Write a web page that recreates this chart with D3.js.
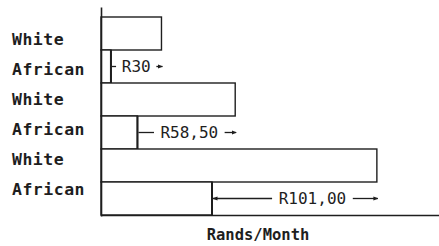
<!DOCTYPE html>
<html>
<head>
<meta charset="utf-8">
<script src="https://cdn.jsdelivr.net/npm/d3@7"></script>
<style>
  html, body { margin: 0; padding: 0; background: #fff; }
  svg { display: block; }
</style>
</head>
<body>
<svg id="chart" width="439" height="246"></svg>
<script>
// ---- data ----
const groups = ["1", "2", "3"];
const rowLabels = ["White", "African", "White", "African", "White", "African"];
const whiteValues = [36.5, 81, 166.5];     // rands / month
const africanValues = [6, 22, 67];          // rands / month
const gapLabels = ["R30", "R58,50", "R101,00"];
const axisTitle = "Rands/Month";

// ---- layout / style constants ----
const W = 439, H = 246;
const ink = "#1e1e1e";
const textShift = [0, 3, 18];   // horizontal nudge of the gap label text
const svg = d3.select("#chart");

const rows = rowLabels.map((l, i) => i);
const y = d3.scaleBand().domain(rows).range([17, 215]).padding(0);
const x = d3.scaleLinear().domain([0, 204]).range([101, 439]);
const labelY = d3.scalePoint().domain(rows).range([39, 189]);

// bars
const bars = [];
groups.forEach((g, i) => {
  bars.push({ row: 2 * i, v: whiteValues[i], kind: "White" });
  bars.push({ row: 2 * i + 1, v: africanValues[i], kind: "African" });
});

svg.append("g").selectAll("rect").data(bars).join("rect")
  .attr("x", x(0))
  .attr("y", d => y(d.row))
  .attr("width", d => x(d.v) - x(0))
  .attr("height", y.bandwidth())
  .attr("fill", "#fff")
  .attr("stroke", ink)
  .attr("stroke-width", 1.4);

// thicker African end line
svg.append("g").selectAll("line").data(bars.filter(d => d.kind === "African")).join("line")
  .attr("x1", d => x(d.v)).attr("x2", d => x(d.v))
  .attr("y1", d => y(d.row)).attr("y2", d => y(d.row) + y.bandwidth())
  .attr("stroke", ink).attr("stroke-width", 2);

// axes
const xAxis = d3.axisBottom(x).tickValues([]).tickSizeOuter(0);
const gx = svg.append("g").attr("transform", `translate(0,${y.range()[1]})`).call(xAxis);
gx.select(".domain").attr("stroke", ink).attr("stroke-width", 1.6);

const yAxis = d3.axisLeft(d3.scaleLinear().domain([0, 1]).range([216, 7])).tickValues([]).tickSizeOuter(0);
const gy = svg.append("g").attr("transform", `translate(${x(0)},0)`).call(yAxis);
gy.select(".domain").attr("stroke", ink).attr("stroke-width", 1.6);

// row labels
svg.append("g").selectAll("text").data(rowLabels).join("text")
  .attr("x", 12)
  .attr("y", (d, i) => labelY(i))
  .attr("dy", "0.36em")
  .attr("font-family", "'DejaVu Sans Mono', monospace")
  .attr("font-weight", "bold")
  .attr("font-size", 16.5)
  .attr("letter-spacing", 0.5)
  .attr("fill", ink)
  .text(d => d);

// gap annotations
const defs = svg.append("defs");
defs.append("marker").attr("id", "head").attr("viewBox", "0 0 10 10")
  .attr("refX", 9).attr("refY", 5).attr("markerWidth", 5).attr("markerHeight", 5)
  .attr("orient", "auto-start-reverse").attr("markerUnits", "userSpaceOnUse")
  .append("path").attr("d", "M0,1 L10,5 L0,9 Z").attr("fill", ink);

const ann = svg.append("g");
groups.forEach((g, i) => {
  const x0 = x(africanValues[i]), x1 = x(whiteValues[i]);
  const cy = y(2 * i + 1) + y.bandwidth() / 2;
  const tw = gapLabels[i].length * 10.1;
  const cx = (x0 + x1) / 2 + textShift[i];
  const tl = cx - tw / 2 - 5, tr = cx + tw / 2 + 5;
  ann.append("line").attr("x1", x0 + 1).attr("x2", tl).attr("y1", cy).attr("y2", cy)
    .attr("stroke", ink).attr("stroke-width", 1.3)
    .attr("marker-start", i === 2 ? "url(#head)" : null);
  ann.append("line").attr("x1", tr).attr("x2", x1 + 1).attr("y1", cy).attr("y2", cy)
    .attr("stroke", ink).attr("stroke-width", 1.3)
    .attr("marker-end", "url(#head)");
  ann.append("text").attr("x", cx).attr("y", cy).attr("dy", "0.36em")
    .attr("text-anchor", "middle")
    .attr("font-family", "'DejaVu Sans Mono', monospace")
    .attr("font-size", 16)
    .attr("fill", ink)
    .text(gapLabels[i]);
});

// axis title
svg.append("text")
  .attr("x", 258).attr("y", 240)
  .attr("text-anchor", "middle")
  .attr("font-family", "'DejaVu Sans Mono', monospace")
  .attr("font-weight", "bold")
  .attr("font-size", 15.5)
  .attr("fill", ink)
  .text(axisTitle);
</script>
</body>
</html>
